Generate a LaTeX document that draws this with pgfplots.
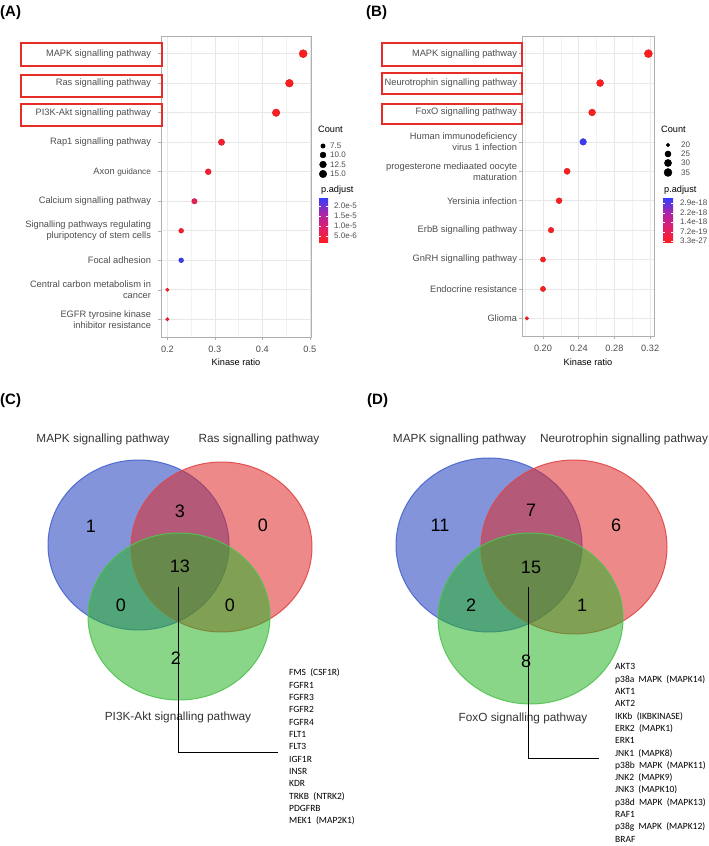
\documentclass[border=0pt]{standalone}
\usepackage{pgfplots}
\pgfplotsset{compat=1.18}
\usepackage{pgfplotstable}
\usepackage{fontspec}
\setmainfont{Liberation Sans}
\newfontfamily\carlito{Carlito}

\definecolor{tickgray}{RGB}{77,77,77}
\definecolor{gridgray}{RGB}{232,232,232}
\definecolor{framegray}{RGB}{175,175,175}
\definecolor{boxred}{RGB}{232,45,40}
\definecolor{vblue}{RGB}{30,60,190}
\definecolor{vred}{RGB}{222,40,40}
\definecolor{vgreen}{RGB}{40,180,40}
\definecolor{vbluedraw}{RGB}{70,100,205}
\definecolor{vreddraw}{RGB}{225,70,70}
\definecolor{vgreendraw}{RGB}{80,195,80}

\pgfdeclareverticalshading{padjbar}{100bp}{rgb(0bp)=(1,0.118,0.118); rgb(25bp)=(1,0.118,0.118); rgb(41.67bp)=(0.882,0.118,0.412); rgb(58.33bp)=(0.686,0.137,0.647); rgb(75bp)=(0.235,0.235,0.961); rgb(100bp)=(0.235,0.235,0.961)}

% Panel A data
\pgfplotstableread{
idx ratio count padj
1  0.486 17 1.5e-6
2  0.457 16 1.6e-6
3  0.429 15 2.0e-6
4  0.314 11 3.0e-6
5  0.286 10 3.5e-6
6  0.257 9  7.0e-6
7  0.229 8  3.0e-6
8  0.229 8  2.35e-5
9  0.200 7  2.5e-6
10 0.200 7  3.0e-6
}\dataA

% Panel B data
\pgfplotstableread{
idx ratio count padj
1  0.318 35 3.3e-27
2  0.264 29 1e-22
3  0.255 28 1e-21
4  0.245 27 2.9e-18
5  0.227 25 1e-20
6  0.218 24 1e-20
7  0.209 23 1e-20
8  0.200 22 1e-20
9  0.200 22 1e-20
10 0.182 20 5e-20
}\dataB

% size legends (pixel positions)
\pgfplotstableread{
x y count
323 146 7.5
323 155 10
323 164.5 12.5
323 174 15
}\legA
\pgfplotstableread{
x y count
668 145 20
668 154 25
668 163 30
668 172.5 35
}\legB

\pgfplotsset{
  dotplot/.style={
    scale only axis, anchor=south west, clip=false,
    ymin=0.4, ymax=10.6, y dir=reverse, ytick={1,...,10},
    xmajorgrids, xminorgrids, ymajorgrids,
    major grid style={gridgray, line width=0.6pt},
    minor grid style={gridgray!55, line width=0.4pt},
    axis line style={framegray, line width=0.6pt},
    tick style={framegray, line width=0.5pt},
    tick align=outside, major tick length=3pt, minor tick length=0pt,
    tick pos=left,
    xticklabel style={font=\fontsize{9.2}{11}\selectfont, text=tickgray, yshift=-3pt},
    yticklabel style={font=\fontsize{9.3}{11}\selectfont, text=tickgray, align=right},
    colormap={padj}{rgb255=(255,30,30) rgb255=(225,30,105) rgb255=(175,35,165) rgb255=(60,60,245)},
  },
}

\begin{document}
\begin{tikzpicture}
\path[use as bounding box] (0,0) rectangle (709pt,846pt);

% ---------------- Panel A ----------------
\begin{axis}[dotplot,
  at={(161pt,509pt)}, width=150pt, height=301pt,
  xmin=0.1865, xmax=0.5025,
  xtick={0.2,0.3,0.4,0.5}, xticklabels={0.2,0.3,0.4,0.5},
  minor xtick={0.25,0.35,0.45},
  yticklabel style={xshift=-3.5pt},
  yticklabels={MAPK signalling pathway, Ras signalling pathway, PI3K-Akt signalling pathway, Rap1 signalling pathway, Axon {\fontsize{8.3}{10}\selectfont guidance}, Calcium signalling pathway, {Signalling pathways regulating\\pluripotency of stem cells}, Focal adhesion, {Central carbon metabolism in\\cancer}, {EGFR tyrosine kinase\\inhibitor resistance}},
  point meta min=1.5e-6, point meta max=2.35e-5,
]
\addplot[scatter, only marks, mark=*, point meta=explicit,
  visualization depends on={\thisrow{count} \as \cnt},
  scatter/@pre marker code/.append style={/tikz/mark size={1.7+2.3*sqrt((\cnt-7)/10)}}]
  table[x=ratio, y=idx, meta=padj]{\dataA};
\end{axis}

% ---------------- Panel B ----------------
\begin{axis}[dotplot,
  at={(522pt,510pt)}, width=132pt, height=300pt,
  xmin=0.1765, xmax=0.3243,
  xtick={0.20,0.24,0.28,0.32}, xticklabels={0.20,0.24,0.28,0.32},
  minor xtick={0.18,0.22,0.26,0.30},
  yticklabel style={xshift=1.5pt},
  yticklabels={MAPK signalling pathway, Neurotrophin signalling pathway, FoxO signalling pathway, {Human immunodeficiency\\virus 1 infection}, {progesterone mediaated oocyte\\maturation}, Yersinia infection, ErbB signalling pathway, GnRH signalling pathway, Endocrine resistance, Glioma},
  point meta min=3.3e-27, point meta max=2.9e-18,
]
\addplot[scatter, only marks, mark=*, point meta=explicit,
  visualization depends on={\thisrow{count} \as \cnt},
  scatter/@pre marker code/.append style={/tikz/mark size={1.8+2.2*sqrt((\cnt-20)/15)}}]
  table[x=ratio, y=idx, meta=padj]{\dataB};
\end{axis}

% ---------------- Size legends (overlay axis in pixel units) ----------------
\begin{axis}[at={(0pt,0pt)}, anchor=south west, scale only axis, width=709pt, height=846pt,
  xmin=0, xmax=709, ymin=0, ymax=846, y dir=reverse, hide axis, clip=false]
\addplot[scatter, only marks, mark=*, scatter/use mapped color={draw=black, fill=black},
  visualization depends on={\thisrow{count} \as \cnt},
  scatter/@pre marker code/.append style={/tikz/mark size={1.7+2.3*sqrt((\cnt-7)/10)}}]
  table[x=x, y=y]{\legA};
\addplot[scatter, only marks, mark=*, scatter/use mapped color={draw=black, fill=black},
  visualization depends on={\thisrow{count} \as \cnt},
  scatter/@pre marker code/.append style={/tikz/mark size={1.8+2.2*sqrt((\cnt-20)/15)}}]
  table[x=x, y=y]{\legB};
\end{axis}

% ---------------- TikZ annotations in pixel coordinates ----------------
\begin{scope}[x=1pt, y=-1pt, yshift=846pt]
  % panel letters
  \node[anchor=base west, inner sep=0, font=\fontsize{15}{18}\selectfont\bfseries] at (0,17) {(A)};
  \node[anchor=base west, inner sep=0, font=\fontsize{15}{18}\selectfont\bfseries] at (366,17) {(B)};
  \node[anchor=base west, inner sep=0, font=\fontsize{15}{18}\selectfont\bfseries] at (0,405) {(C)};
  \node[anchor=base west, inner sep=0, font=\fontsize{15}{18}\selectfont\bfseries] at (367,405) {(D)};

  % red boxes
  \draw[boxred, line width=1.3pt] (21,43) rectangle (162,66);
  \draw[boxred, line width=1.3pt] (21,75) rectangle (162,97);
  \draw[boxred, line width=1.3pt] (21,104) rectangle (162,126);
  \draw[boxred, line width=1.3pt] (382,43) rectangle (522,66);
  \draw[boxred, line width=1.3pt] (382,73) rectangle (522,94);
  \draw[boxred, line width=1.3pt] (382,104) rectangle (522,124);

  % axis titles
  \node[anchor=base, inner sep=0, font=\fontsize{9.2}{11}\selectfont] at (236,366) {Kinase ratio};
  \node[anchor=base, inner sep=0, font=\fontsize{9.2}{11}\selectfont] at (588,366) {Kinase ratio};

  % legend A
  \node[anchor=base west, inner sep=0, font=\fontsize{9.2}{11}\selectfont] at (318,133) {Count};
  \foreach \yy/\tt in {146/7.5, 155/10.0, 164.5/12.5, 174/15.0}
    \node[anchor=west, inner sep=0, font=\fontsize{8}{9}\selectfont, text=tickgray] at (330,\yy) {\tt};
  \node[anchor=base west, inner sep=0, font=\fontsize{9.2}{11}\selectfont] at (321,193) {p.adjust};
  \shade[shading=padjbar] (319,199) rectangle (328,243);
  \foreach \yy/\tt in {206/2.0e-5, 216/1.5e-5, 226/1.0e-5, 236/5.0e-6}{
    \draw[white, line width=0.5pt] (319,\yy) -- (321,\yy) (326,\yy) -- (328,\yy);
    \node[anchor=west, inner sep=0, font=\fontsize{8}{9}\selectfont, text=tickgray] at (334,\yy) {\tt};
  }

  % legend B
  \node[anchor=base west, inner sep=0, font=\fontsize{9.2}{11}\selectfont] at (661,133) {Count};
  \foreach \yy/\tt in {145/20, 154/25, 163/30, 172.5/35}
    \node[anchor=west, inner sep=0, font=\fontsize{8}{9}\selectfont, text=tickgray] at (681,\yy) {\tt};
  \node[anchor=base west, inner sep=0, font=\fontsize{9.2}{11}\selectfont] at (664,193) {p.adjust};
  \shade[shading=padjbar] (663,199) rectangle (673,243);
  \foreach \yy/\tt in {203/2.9e-18, 213/2.2e-18, 222/1.4e-18, 232/7.2e-19, 241/3.3e-27}{
    \draw[white, line width=0.5pt] (663,\yy) -- (665,\yy) (671,\yy) -- (673,\yy);
    \node[anchor=west, inner sep=0, font=\fontsize{8}{9}\selectfont, text=tickgray] at (680,\yy) {\tt};
  }

  % ---------- Venn C ----------
  \begin{scope}[fill opacity=0.55, draw opacity=0.9, line width=1pt]
    \filldraw[fill=vblue, draw=vbluedraw] (138.5,545) ellipse [x radius=90.5pt, y radius=85pt];
    \filldraw[fill=vred, draw=vreddraw] (221.5,547) ellipse [x radius=90.5pt, y radius=85pt];
    \filldraw[fill=vgreen, draw=vgreendraw] (179,616.5) ellipse [x radius=91pt, y radius=83.5pt];
  \end{scope}
  \node[anchor=base, inner sep=0, font=\fontsize{11.8}{14}\selectfont, text=black!80] at (103,443) {MAPK signalling pathway};
  \node[anchor=base, inner sep=0, font=\fontsize{11.8}{14}\selectfont, text=black!80] at (259,443) {Ras signalling pathway};
  \node[anchor=base, inner sep=0, font=\fontsize{11.8}{14}\selectfont, text=black!80] at (178,721) {PI3K-Akt signalling pathway};
  \foreach \xx/\yy/\tt in {91/526/1, 180/511/3, 263/525/0, 180/566/13, 121/605/0, 230/605/0, 176/658/2}
    \node[font=\fontsize{18}{20}\selectfont, inner sep=0] at (\xx,\yy) {\tt};
  \draw[black, line width=0.9pt] (178,587) -- (178,752) -- (278,752);
  \foreach \g [count=\i from 0] in {FMS\ \ (CSF1R), FGFR1, FGFR3, FGFR2, FGFR4, FLT1, FLT3, IGF1R, INSR, KDR, TRKB\ \ (NTRK2), PDGFRB, MEK1\ \ (MAP2K1)}
    \node[anchor=base west, inner sep=0, font=\carlito\fontsize{9.5}{11}\selectfont] at (289,676+12.33*\i) {\g};

  % ---------- Venn D ----------
  \begin{scope}[fill opacity=0.55, draw opacity=0.9, line width=1pt]
    \filldraw[fill=vblue, draw=vbluedraw] (489,545) ellipse [x radius=93pt, y radius=87pt];
    \filldraw[fill=vred, draw=vreddraw] (574,547) ellipse [x radius=93pt, y radius=87pt];
    \filldraw[fill=vgreen, draw=vgreendraw] (530.5,618.5) ellipse [x radius=92.5pt, y radius=85.5pt];
  \end{scope}
  \node[anchor=base, inner sep=0, font=\fontsize{11.8}{14}\selectfont, text=black!80] at (459.5,443) {MAPK signalling pathway};
  \node[anchor=base, inner sep=0, font=\fontsize{11.8}{14}\selectfont, text=black!80] at (624,443) {Neurotrophin signalling pathway};
  \node[anchor=base, inner sep=0, font=\fontsize{11.8}{14}\selectfont, text=black!80] at (523,722) {FoxO signalling pathway};
  \foreach \xx/\yy/\tt in {440/525/11, 531/510/7, 616/525/6, 531/567/15, 471/605/2, 582/605/1, 526/661/8}
    \node[font=\fontsize{18}{20}\selectfont, inner sep=0] at (\xx,\yy) {\tt};
  \draw[black, line width=0.9pt] (528,587) -- (528,758) -- (599,758);
  \foreach \g [count=\i from 0] in {AKT3, p38a\ \ MAPK\ \ (MAPK14), AKT1, AKT2, IKKb\ \ (IKBKINASE), ERK2\ \ (MAPK1), ERK1, JNK1\ \ (MAPK8), p38b\ \ MAPK\ \ (MAPK11), JNK2\ \ (MAPK9), JNK3\ \ (MAPK10), p38d\ \ MAPK\ \ (MAPK13), RAF1, p38g\ \ MAPK\ \ (MAPK12), BRAF}
    \node[anchor=base west, inner sep=0, font=\carlito\fontsize{9.5}{11}\selectfont] at (615,670+12.29*\i) {\g};
\end{scope}
\end{tikzpicture}
\end{document}
